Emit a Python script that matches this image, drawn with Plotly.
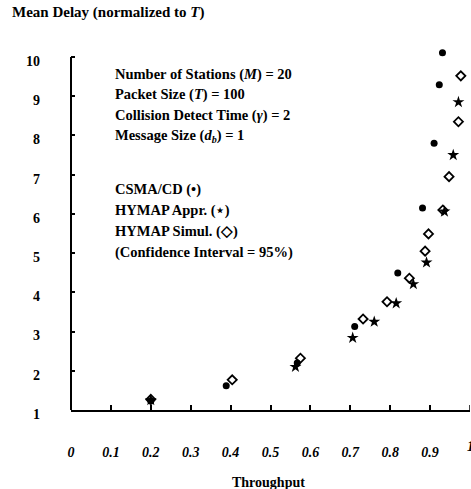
import plotly.graph_objects as go

# CSMA/CD (filled circles)
csma_x = [0.20, 0.389, 0.567, 0.711, 0.819, 0.881, 0.910, 0.923, 0.931]
csma_y = [1.23, 1.62, 2.20, 3.13, 4.49, 6.15, 7.80, 9.29, 10.11]

# HYMAP approximation (stars)
appr_x = [0.20, 0.5625, 0.706, 0.760, 0.815, 0.858, 0.891, 0.936, 0.958, 0.971]
appr_y = [1.25, 2.10, 2.84, 3.25, 3.72, 4.21, 4.76, 6.06, 7.50, 8.85]

# HYMAP simulation (open diamonds)
simu_x = [0.20, 0.404, 0.575, 0.732, 0.792, 0.848, 0.8875, 0.896, 0.932, 0.9475, 0.971, 0.977]
simu_y = [1.27, 1.77, 2.32, 3.32, 3.76, 4.36, 5.05, 5.49, 6.10, 6.95, 8.35, 9.52]

x_ticks = [0, 0.1, 0.2, 0.3, 0.4, 0.5, 0.6, 0.7, 0.8, 0.9, 1]
x_tick_labels = ["0", "0.1", "0.2", "0.3", "0.4", "0.5", "0.6", "0.7", "0.8", "0.9", "1"]
y_ticks = [1, 2, 3, 4, 5, 6, 7, 8, 9, 10]
y_tick_labels = ["1", "2", "3", "4", "5", "6", "7", "8", "9", "10"]

STAR = '<span style="font-family:DejaVu Sans">⋆</span>'
info_lines = [
    "Number of Stations (<i>M</i>) = 20",
    "Packet Size (<i>T</i>) = 100",
    "Collision Detect Time (<i>γ</i>) = 2",
    "Message Size (<i>d<sub>b</sub></i>) = 1",
]
legend_lines = [
    "CSMA/CD (•)",
    "HYMAP Appr. (" + STAR + ")",
    "HYMAP Simul. (◇)",
    "(Confidence Interval = 95%)",
]

FONT = "Liberation Serif"
W, H = 471, 489
L, R, T, B = 71, 1, 45, 79
PH = H - T - B          # plot height in px
PX_PER_UNIT = 353 / 9   # 1 -> y=410, 10 -> y=57
Y_TOP = 1 + PH / PX_PER_UNIT


def py(pix):  # pixel row -> paper y
    return (H - B - pix) / PH


def px(pix):  # pixel column -> paper x
    return (pix - L) / (W - L - R)


fig = go.Figure()
fig.add_trace(go.Scatter(x=csma_x, y=csma_y, mode="markers",
                         marker=dict(symbol="circle", size=7, color="black"),
                         cliponaxis=False, showlegend=False))
fig.add_trace(go.Scatter(x=appr_x, y=appr_y, mode="markers",
                         marker=dict(symbol="star", size=9, color="black", line=dict(width=0)),
                         cliponaxis=False, showlegend=False))
fig.add_trace(go.Scatter(x=simu_x, y=simu_y, mode="markers",
                         marker=dict(symbol="diamond-open", size=7, color="black", line=dict(width=1.8)),
                         cliponaxis=False, showlegend=False))

tickfont_x = dict(family=FONT, size=14, color="black", style="italic", weight="bold")
fig.update_layout(
    width=W, height=H,
    margin=dict(l=L, r=R, t=T, b=B),
    paper_bgcolor="white", plot_bgcolor="white",
    font=dict(family=FONT, size=14, color="black"),
    xaxis=dict(range=[0, 1], tickvals=x_ticks[:-1], ticktext=x_tick_labels[:-1],
               ticks="inside", ticklen=5, tickwidth=1.5, tickcolor="black",
               showline=True, linecolor="black", linewidth=2, showgrid=False, zeroline=False,
               ticklabelstandoff=28, tickfont=tickfont_x),
    yaxis=dict(range=[1, Y_TOP], tickvals=y_ticks, ticktext=y_tick_labels,
               ticks="inside", ticklen=4, tickwidth=1.5, tickcolor="black",
               showline=False, showgrid=False, zeroline=False,
               ticklabelstandoff=30, ticklabelshift=4,
               tickfont=dict(family=FONT, size=14, color="black", weight="bold")),
)

ann = []
ann.append(dict(text="Mean Delay (normalized to <i>T</i>)", x=10, y=13, size=15))
for i, t in enumerate(info_lines):
    ann.append(dict(text=t, x=113, y=74 + 20.7 * i, size=14.5))
for i, t in enumerate(legend_lines):
    ann.append(dict(text=t, x=113, y=189 + 21.3 * i, size=14.5))
annotations = []
for a in ann:
    annotations.append(dict(
        text=a["text"], xref="paper", yref="paper",
        x=px(a["x"]), y=py(a["y"]),
        xanchor="left", yanchor="middle", showarrow=False,
        font=dict(family=FONT, size=a["size"], color="black", weight="bold")))
annotations.append(dict(text=x_tick_labels[-1], xref="x", yref="paper",
                        x=x_ticks[-1], y=py(447),
                        xanchor="center", yanchor="middle", showarrow=False,
                        font=tickfont_x))
annotations.append(dict(text="Throughput", xref="paper", yref="paper",
                        x=px(268), y=py(482),
                        xanchor="center", yanchor="middle", showarrow=False,
                        font=dict(family=FONT, size=14, color="black", weight="bold")))
fig.update_layout(annotations=annotations)
# y axis line from 1 to 10 only (as in reference)
fig.add_shape(type="line", xref="paper", yref="y", x0=0, x1=0, y0=y_ticks[0], y1=y_ticks[-1],
              line=dict(color="black", width=2))
# tick at x = 1
fig.add_shape(type="line", xref="x", yref="paper", x0=1, x1=1, y0=0, y1=5 / PH,
              line=dict(color="black", width=1.5))

fig.write_html("out.html", config={"displayModeBar": False},
               post_script="document.body.style.margin='0';document.body.style.overflow='hidden';")
